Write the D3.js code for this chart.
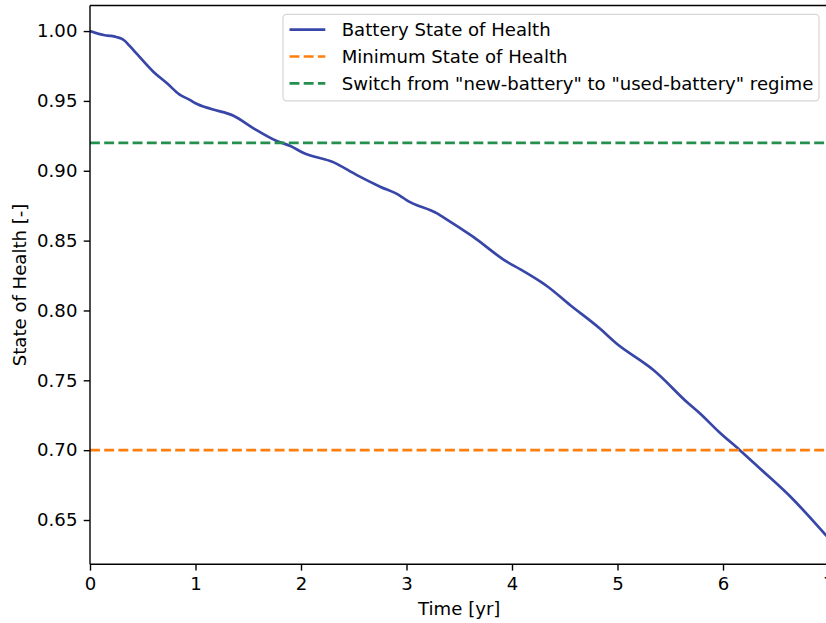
<!DOCTYPE html>
<html>
<head>
<meta charset="utf-8">
<script src="https://cdn.jsdelivr.net/npm/d3@7"></script>
<style>
  html, body { margin: 0; padding: 0; background: #fff; }
  svg { display: block; font-family: "DejaVu Sans", sans-serif; }
</style>
</head>
<body>
<svg id="chart" width="826" height="623"></svg>
<script>
// Battery state-of-health trajectory over time
const timeYears = [0, 0.14, 0.2, 0.25, 0.32, 0.38, 0.44, 0.6, 0.73, 0.85, 0.95, 1.0, 1.15, 1.36, 1.55, 1.77, 1.9, 2.02, 2.31, 2.53, 2.75, 2.94, 3.0, 3.29, 3.35, 3.63, 3.95, 4.08, 4.27, 4.33, 4.55, 4.83, 4.99, 5.28, 5.34, 5.66, 5.78, 5.96, 6.16, 6.35, 6.64, 6.89, 7.0];
const sohValues = [1.0, 0.997, 0.9965, 0.9957, 0.9936, 0.989, 0.984, 0.9709, 0.9626, 0.9545, 0.9506, 0.9483, 0.9442, 0.9394, 0.9304, 0.9213, 0.9177, 0.9129, 0.906, 0.8969, 0.8886, 0.8821, 0.879, 0.8695, 0.8667, 0.8528, 0.8349, 0.8294, 0.8206, 0.8175, 0.8039, 0.7872, 0.7764, 0.7609, 0.7574, 0.7343, 0.7264, 0.7132, 0.700, 0.6869, 0.6666, 0.6464, 0.637];

// Reference levels
const minSoh = 0.70;
const regimeSwitchSoh = 0.92;

// Axis ticks
const xTicks = [0, 1, 2, 3, 4, 5, 6, 7];
const yTicks = [0.65, 0.70, 0.75, 0.80, 0.85, 0.90, 0.95, 1.00];

const legendLabels = [
  "Battery State of Health",
  "Minimum State of Health",
  "Switch from \"new-battery\" to \"used-battery\" regime"
];

const colors = { soh: "#3846a8", min: "#ff7f0e", sw: "#25904e" };

const fs = 18.1;            // font size (px)
const lw = 2.7;             // data line width
const dash = "9.9,4.3";
const tickLen = 6.3, tickPad = 6.3;

const margin = { left: 90, top: 5.5, right: 828.5, bottom: 564.3 };

const svg = d3.select("#chart");

const x = d3.scaleLinear().domain([0, 7]).range([margin.left, margin.right]);
const y = d3.scaleLinear().domain([0.6183, 1.0183]).range([margin.bottom, margin.top]);

svg.append("defs").append("clipPath").attr("id", "plotClip")
  .append("rect")
  .attr("x", margin.left).attr("y", margin.top)
  .attr("width", margin.right - margin.left)
  .attr("height", margin.bottom - margin.top);

const plot = svg.append("g").attr("clip-path", "url(#plotClip)");

// SoH curve
const line = d3.line()
  .x((d, i) => x(timeYears[i]))
  .y(d => y(d))
  .curve(d3.curveMonotoneX);
plot.append("path")
  .datum(sohValues)
  .attr("d", line)
  .attr("fill", "none")
  .attr("stroke", colors.soh)
  .attr("stroke-width", lw)
  .attr("stroke-linejoin", "round")
  .attr("stroke-linecap", "square");

// Horizontal reference lines
[[minSoh, colors.min], [regimeSwitchSoh, colors.sw]].forEach(([v, c]) => {
  plot.append("line")
    .attr("x1", x(0)).attr("x2", x(7))
    .attr("y1", y(v)).attr("y2", y(v))
    .attr("stroke", c)
    .attr("stroke-width", lw)
    .attr("stroke-dasharray", dash);
});

// Axes
const xAxis = d3.axisBottom(x).tickValues(xTicks).tickFormat(d3.format("d"))
  .tickSizeInner(tickLen).tickSizeOuter(0).tickPadding(tickPad);
const yAxis = d3.axisLeft(y).tickValues(yTicks).tickFormat(d3.format(".2f"))
  .tickSizeInner(tickLen).tickSizeOuter(0).tickPadding(tickPad);

const gx = svg.append("g").attr("transform", `translate(0,${margin.bottom})`).call(xAxis);
const gy = svg.append("g").attr("transform", `translate(${margin.left},0)`).call(yAxis);

[gx, gy].forEach(g => {
  g.select(".domain").remove();
  g.selectAll(".tick line").attr("stroke", "#000").attr("stroke-width", 1.4);
  g.selectAll(".tick text")
    .attr("fill", "#000")
    .style("font-family", "DejaVu Sans")
    .style("font-size", fs + "px");
});
gx.selectAll(".tick text").attr("dy", "0.75em");

// Spines
const spine = svg.append("g").attr("stroke", "#000").attr("stroke-width", 1.4).attr("fill", "none");
spine.append("line").attr("x1", margin.left).attr("x2", margin.left).attr("y1", margin.top).attr("y2", margin.bottom);
spine.append("line").attr("x1", margin.left).attr("x2", margin.right).attr("y1", margin.bottom).attr("y2", margin.bottom);
spine.append("line").attr("x1", margin.left).attr("x2", margin.right).attr("y1", margin.top).attr("y2", margin.top);
spine.append("line").attr("x1", margin.right).attr("x2", margin.right).attr("y1", margin.top).attr("y2", margin.bottom);

// Axis labels
svg.append("text")
  .attr("x", (margin.left + margin.right) / 2)
  .attr("y", 615)
  .attr("text-anchor", "middle")
  .style("font-size", fs + "px")
  .text("Time [yr]");

svg.append("text")
  .attr("transform", `translate(25.7,${(margin.top + margin.bottom) / 2}) rotate(-90)`)
  .attr("text-anchor", "middle")
  .style("font-size", fs + "px")
  .text("State of Health [-]");

// Legend
const legend = svg.append("g");
legend.append("rect")
  .attr("x", 283).attr("y", 14.3)
  .attr("width", 536).attr("height", 86.5)
  .attr("rx", 3.6).attr("ry", 3.6)
  .attr("fill", "#fff").attr("fill-opacity", 0.8)
  .attr("stroke", "#d6d6d6").attr("stroke-width", 1.2);

const legendRows = [
  { label: legendLabels[0], color: colors.soh, dash: null },
  { label: legendLabels[1], color: colors.min, dash: dash },
  { label: legendLabels[2], color: colors.sw, dash: dash }
];
legendRows.forEach((r, i) => {
  const cy = 29.7 + i * 26.8;
  legend.append("line")
    .attr("x1", 289.5).attr("x2", 325.3)
    .attr("y1", cy).attr("y2", cy)
    .attr("stroke", r.color).attr("stroke-width", lw)
    .attr("stroke-dasharray", r.dash);
  legend.append("text")
    .attr("x", 341.7).attr("y", cy)
    .attr("dy", "0.36em")
    .style("font-size", fs + "px")
    .text(r.label);
});
</script>
</body>
</html>
